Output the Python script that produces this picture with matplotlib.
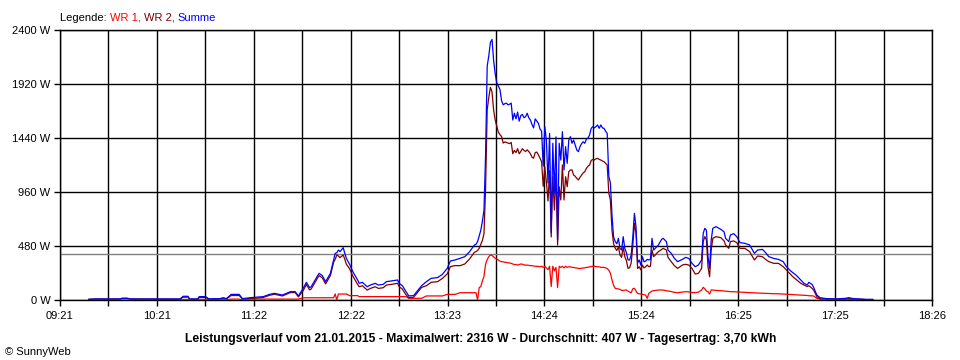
import matplotlib
matplotlib.use("Agg")
import matplotlib.pyplot as plt

# ---- data ----
times = ["09:39","09:43","09:58","10:00","10:03","10:05","10:36","10:38","10:41","10:42",
         "10:47","10:48","10:52","10:54","11:01","11:03","11:05","11:08","11:13","11:15",
         "11:20","11:28","11:32","11:35","11:40","11:45","11:48","11:50","11:53","11:55",
         "11:57","11:58","12:02","12:03","12:05","12:07","12:10","12:12","12:13","12:14",
         "12:15","12:16","12:18","12:19","12:20","12:22","12:24","12:27","12:28","12:30",
         "12:33","12:35","12:38","12:40","12:43","12:45","12:48","12:52","12:53","12:55",
         "12:57","12:59","13:02","13:04","13:07","13:10","13:13","13:17","13:20","13:23",
         "13:25","13:28","13:31","13:34","13:37","13:40","13:41","13:42","13:43","13:44",
         "13:45","13:46","13:47","13:48","13:49","13:50","13:51","13:52","13:53","13:54",
         "13:55","13:56","13:57","13:58","13:59","14:00","14:01","14:02","14:03","14:04",
         "14:05","14:06","14:07","14:08","14:09","14:10","14:11","14:12","14:13","14:14",
         "14:15","14:16","14:17","14:18","14:19","14:20","14:21","14:22","14:23","14:24",
         "14:25","14:26","14:27","14:28","14:29","14:30","14:31","14:32","14:33","14:34",
         "14:35","14:36","14:37","14:38","14:39","14:40","14:41","14:42","14:43","14:44",
         "14:45","14:46","14:47","14:48","14:49","14:50","14:51","14:52","14:53","14:54",
         "14:55","14:56","14:57","14:58","14:59","15:00","15:01","15:02","15:03","15:04",
         "15:05","15:06","15:07","15:08","15:09","15:10","15:11","15:12","15:13","15:14",
         "15:15","15:16","15:17","15:18","15:19","15:20","15:21","15:22","15:23","15:24",
         "15:25","15:26","15:27","15:28","15:29","15:30","15:31","15:32","15:33","15:35",
         "15:37","15:38","15:40","15:41","15:43","15:45","15:47","15:50","15:52","15:54",
         "15:56","15:58","16:00","16:02","16:03","16:04","16:05","16:06","16:07","16:08",
         "16:09","16:11","16:14","16:16","16:17","16:19","16:20","16:22","16:24","16:26",
         "16:29","16:32","16:35","16:37","16:40","16:42","16:44","16:47","16:50","16:53",
         "16:55","16:57","16:59","17:01","17:04","17:06","17:08","17:09","17:11","17:12",
         "17:14","17:16","17:20","17:26","17:32","17:34","17:37","17:45","17:49"]

summe = [6,9,9,15,15,9,9,33,33,9,
         9,30,30,10,12,20,12,50,50,12,
         21,30,50,59,44,74,74,36,104,157,
         110,118,216,237,216,163,237,356,415,420,
         444,430,465,415,370,317,252,178,148,157,
         118,133,148,133,139,163,169,178,148,127,
         80,36,39,74,127,163,193,199,228,281,
         347,356,370,385,430,489,495,520,570,620,
         700,800,1300,2080,2170,2290,2316,2130,2010,1930,
         1900,1870,1770,1735,1745,1750,1735,1740,1750,1600,
         1660,1610,1670,1590,1640,1650,1620,1630,1660,1620,
         1600,1560,1530,1610,1590,1570,1520,1500,1190,1540,
         1420,1040,1480,600,1393,950,1450,533,1393,1244,
         1496,1156,1363,1215,1422,1452,1393,1422,1378,1333,
         1319,1363,1390,1407,1393,1430,1440,1467,1526,1541,
         1530,1541,1556,1526,1556,1530,1526,1500,1481,1100,
         1040,750,560,520,500,548,459,444,563,459,
         420,356,356,400,560,770,652,330,356,311,
         385,340,345,361,356,360,548,444,459,489,
         539,548,519,444,415,370,341,361,379,370,
         326,296,311,356,593,637,620,385,281,533,
         637,652,628,607,548,519,578,590,563,510,
         504,489,415,444,450,421,385,370,361,341,
         296,267,243,222,178,148,133,157,139,113,
         44,21,12,9,15,21,12,6,6]

wr2 = [6,9,9,15,15,9,8,25,25,8,
       8,22,22,8,10,16,10,40,40,10,
       13,22,42,51,36,66,66,28,84,137,
       90,98,196,217,196,143,217,336,362,400,
       391,377,400,362,317,278,213,139,118,127,
       88,103,118,103,109,133,139,148,118,97,
       50,21,24,59,112,127,157,163,192,231,
       297,306,305,320,365,424,430,440,460,495,
       530,590,1000,1690,1800,1890,1850,1690,1600,1545,
       1490,1470,1452,1395,1405,1400,1395,1390,1400,1300,
       1330,1310,1345,1300,1320,1345,1330,1320,1335,1320,
       1300,1270,1260,1310,1315,1290,1260,1230,1010,1180,
       1050,880,1150,560,1096,800,1126,489,1007,889,
       1200,889,1096,1007,1141,1156,1156,1111,1100,1081,
       1067,1090,1111,1130,1141,1170,1190,1200,1240,1250,
       1245,1255,1259,1250,1244,1235,1230,1215,1200,950,
       890,620,500,460,440,474,400,379,474,385,
       350,281,287,330,480,681,593,280,296,267,
       311,285,295,311,296,300,444,385,400,430,
       450,459,444,379,341,305,281,311,317,311,
       281,231,237,281,519,563,533,296,207,444,
       548,563,554,527,489,459,519,525,510,459,
       459,430,356,391,385,361,341,326,326,296,
       267,237,207,184,148,133,119,127,104,89,
       30,9,9,8,9,12,9,3,3]

wr1 = [0,0,0,0,0,0,1,5,5,1,
       1,5,5,2,2,3,2,8,8,2,
       8,8,8,8,8,8,8,8,20,20,
       20,20,20,20,20,20,20,20,53,0,
       53,53,53,53,53,39,39,39,30,30,
       30,30,30,30,30,30,30,30,30,30,
       30,15,15,15,15,36,36,36,36,50,
       50,50,65,65,65,65,65,0,110,120,
       170,210,320,360,385,400,395,385,370,365,
       355,345,340,340,335,335,330,330,325,320,
       315,315,310,315,320,318,312,310,310,308,
       305,305,302,300,300,298,296,300,290,300,
       285,270,300,120,300,260,290,110,300,290,
       300,285,300,290,295,295,290,290,285,285,
       280,280,282,285,285,290,290,295,298,300,
       300,298,295,295,290,290,290,285,280,265,
       237,178,130,104,100,98,95,85,85,87,
       89,80,70,65,100,104,80,59,55,53,
       50,48,44,15,59,70,80,82,85,89,
       89,88,82,80,75,68,65,70,74,72,
       66,65,70,89,113,100,80,74,53,89,
       89,85,83,80,78,76,74,74,72,70,
       68,65,64,62,60,59,58,56,55,53,
       52,50,48,46,44,42,40,38,37,36,
       15,10,8,6,6,5,4,0,0]

average_w = 407
y_ticks = [0, 480, 960, 1440, 1920, 2400]
x_labels = ["09:21", "10:21", "11:22", "12:22", "13:23", "14:24", "15:24", "16:25", "17:25", "18:26"]
x_start, x_end = "09:21", "18:26"
title_text = ("Leistungsverlauf vom 21.01.2015 - Maximalwert: 2316 W - "
              "Durchschnitt: 407 W - Tagesertrag: 3,70 kWh")


def to_min(s):
    h, m = s.split(":")
    return int(h) * 60 + int(m)


t = [to_min(s) for s in times]
t0, t1 = to_min(x_start), to_min(x_end)

plt.rcParams['font.family'] = ['Liberation Sans', 'DejaVu Sans']

fig = plt.figure(figsize=(9.6, 3.6), dpi=100)
fig.patch.set_facecolor("white")
ax = fig.add_axes([60 / 960, 1 - 300 / 360, 872 / 960, 270 / 360])

ax.set_xlim(t0, t1)
ax.set_ylim(0, 2400)

n_div = 18
xt = [t0 + (t1 - t0) * i / n_div for i in range(n_div + 1)]
ax.set_xticks(xt)
ax.set_xticklabels([x_labels[i // 2] if i % 2 == 0 else "" for i in range(n_div + 1)])
ax.set_yticks(y_ticks)
ax.set_yticklabels([f"{v} W" for v in y_ticks])

for v in xt:
    ax.axvline(v, color="black", lw=1.0, zorder=1)
for v in y_ticks:
    ax.axhline(v, color="black", lw=1.0, zorder=1)
ax.axhline(average_w, color="#808080", lw=1.0, zorder=1)

for sp in ax.spines.values():
    sp.set_color("black")
    sp.set_linewidth(1.0)

ax.tick_params(axis="both", length=4, width=1.0, color="black", labelsize=8, pad=3)
ax.tick_params(axis="x", pad=4)

ax.plot(t, wr1, color="#ff0000", lw=0.9, zorder=3)
ax.plot(t, wr2, color="#800000", lw=0.9, zorder=4)
ax.plot(t, summe, color="#0000ff", lw=0.9, zorder=5)

# legend line at top
lg = fig.text(60 / 960, 1 - 21 / 360, "Legende: ", fontsize=8, color="black", va="baseline")
parts = [("WR 1, ", "#ff0000"), ("WR 2, ", "#800000"), ("Summe", "#0000ff")]
prev = lg
for txt, col in parts:
    prev = ax.annotate(txt, xy=(1, 0), xycoords=prev, va="bottom", ha="left",
                       fontsize=8, color=col, annotation_clip=False)

fig.text(481 / 960, 1 - 342 / 360, title_text, fontsize=8.7, fontweight="bold",
         ha="center", va="baseline")
fig.text(5 / 960, 1 - 355 / 360, "\u00a9 SunnyWeb", fontsize=8, ha="left", va="baseline")

fig.savefig("out.png", dpi=100)
